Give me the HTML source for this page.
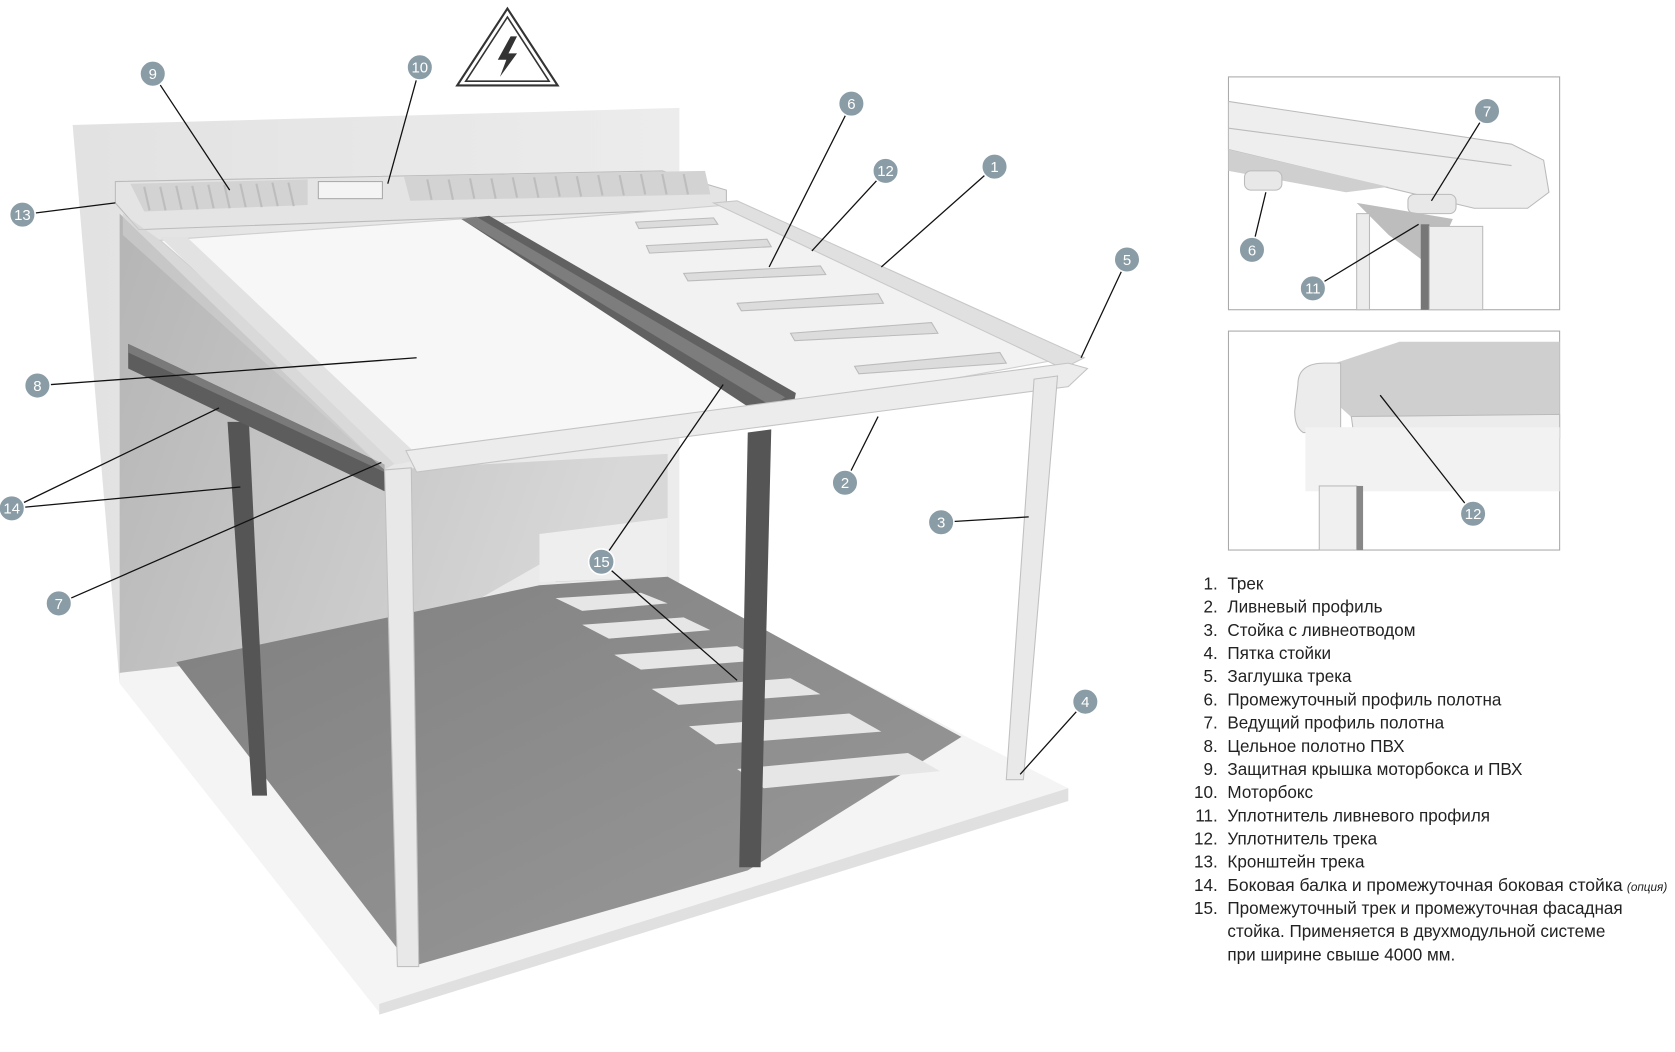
<!DOCTYPE html>
<html><head><meta charset="utf-8"><style>
html,body{margin:0;padding:0;background:#fff;}
svg{display:block;}
text{font-family:"Liberation Sans",sans-serif;}
</style></head><body>
<svg width="1675" height="1052" viewBox="0 0 1568 985" preserveAspectRatio="none" xmlns="http://www.w3.org/2000/svg">
<defs>
<linearGradient id="wall" x1="0" y1="0" x2="1" y2="0"><stop offset="0" stop-color="#e2e2e2"/><stop offset="1" stop-color="#ececec"/></linearGradient>
<linearGradient id="under" x1="0" y1="0" x2="1" y2="0.3"><stop offset="0" stop-color="#b5b5b5"/><stop offset="1" stop-color="#d8d8d8"/></linearGradient>
<linearGradient id="shadow" x1="0" y1="0" x2="1" y2="1"><stop offset="0" stop-color="#808080"/><stop offset="1" stop-color="#9a9a9a"/></linearGradient>
</defs>
<!-- back wall -->
<polygon points="68,117 636,101 636,545 112,640" fill="url(#wall)"/>
<!-- floor -->
<polygon points="112,640 355,948 1000,750 1000,738 905,690 620,540 112,630" fill="#f4f4f4"/>
<polygon points="355,940 1000,738 1000,750 355,950" fill="#e0e0e0"/>
<!-- under-roof area -->
<polygon points="112,200 360,440 625,425 625,540 520,545 520,520 380,600 112,630" fill="url(#under)"/>
<polygon points="505,500 625,485 625,540 505,545" fill="#eeeeee"/>
<!-- floor shadow -->
<polygon points="165,620 385,905 700,815 900,690 625,540 505,548" fill="url(#shadow)"/>
<g fill="#e6e6e6">
<polygon points="520,560 600,555 625,565 545,572"/>
<polygon points="545,585 640,578 665,590 570,598"/>
<polygon points="575,613 690,605 715,618 600,627"/>
<polygon points="610,645 740,635 768,650 635,660"/>
<polygon points="645,680 795,668 825,685 670,697"/>
<polygon points="690,720 850,705 880,722 715,738"/>
</g>
<!-- left dark post -->
<polygon points="213,395 233,395 250,745 236,745" fill="#555"/>
<!-- side beam -->
<polygon points="120,322 360,435 360,460 120,345" fill="#5d5d5d"/>
<polygon points="120,322 360,435 360,442 120,330" fill="#7a7a7a"/>
<!-- motorbox / top -->
<polygon points="108,170 620,160 680,178 680,195 130,215 108,190" fill="#e4e4e4" stroke="#bbb"/>
<polygon points="122,172 288,168 288,192 135,198" fill="#d3d3d3"/>
<polygon points="378,165 660,160 665,182 384,188" fill="#d3d3d3"/>
<g stroke="#bdbdbd" stroke-width="2">
<line x1="135" y1="175" x2="140" y2="197"/><line x1="150" y1="175" x2="155" y2="197"/><line x1="165" y1="174" x2="170" y2="196"/><line x1="180" y1="174" x2="185" y2="196"/><line x1="195" y1="173" x2="200" y2="195"/><line x1="210" y1="173" x2="215" y2="195"/><line x1="225" y1="172" x2="230" y2="194"/><line x1="240" y1="172" x2="245" y2="194"/><line x1="255" y1="171" x2="260" y2="193"/><line x1="270" y1="171" x2="275" y2="193"/>
<line x1="400" y1="168" x2="404" y2="187"/><line x1="420" y1="168" x2="424" y2="187"/><line x1="440" y1="167" x2="444" y2="186"/><line x1="460" y1="167" x2="464" y2="186"/><line x1="480" y1="166" x2="484" y2="185"/><line x1="500" y1="166" x2="504" y2="185"/><line x1="520" y1="165" x2="524" y2="184"/><line x1="540" y1="165" x2="544" y2="184"/><line x1="560" y1="164" x2="564" y2="183"/><line x1="580" y1="164" x2="584" y2="183"/><line x1="600" y1="163" x2="604" y2="182"/><line x1="620" y1="163" x2="624" y2="182"/><line x1="640" y1="163" x2="644" y2="182"/>
</g>
<rect x="298" y="170" width="60" height="16" fill="#f4f4f4" stroke="#aaa"/>
<!-- left side glass -->
<polygon points="115,200 150,225 385,425 360,440 115,220" fill="#d0d0d0" opacity="0.6"/>
<!-- roof left panel -->
<polygon points="150,225 432,205 738,380 385,430" fill="#f7f7f7" stroke="#cfcfcf"/>
<polygon points="150,222 175,222 395,430 370,435" fill="#e2e2e2"/>
<!-- roof right panel -->
<polygon points="460,210 680,192 1000,335 740,382" fill="#f2f2f2" stroke="#cfcfcf"/>
<polygon points="668,190 690,188 1015,335 995,345" fill="#e0e0e0" stroke="#c8c8c8"/>
<g fill="#dcdcdc" stroke="#bbb">
<polygon points="595,208 668,204 672,210 598,214"/>
<polygon points="605,230 718,224 722,231 608,237"/>
<polygon points="640,256 768,249 773,257 644,263"/>
<polygon points="690,284 822,275 827,284 694,291"/>
<polygon points="740,312 872,302 878,312 744,319"/>
<polygon points="800,343 936,330 942,340 804,350"/>
</g>
<!-- middle dark track -->
<polygon points="432,205 458,202 745,368 740,395 722,395" fill="#616161"/>
<polygon points="432,205 446,203 735,372 722,380" fill="#7d7d7d"/>
<!-- front gutter -->
<polygon points="380,422 1000,340 1018,345 1000,362 390,442" fill="#ececec" stroke="#c4c4c4"/>
<!-- posts -->
<polygon points="360,440 385,438 392,905 372,905" fill="#e8e8e8" stroke="#c0c0c0"/>
<polygon points="700,405 722,402 712,812 692,812" fill="#555"/>
<polygon points="968,355 990,352 958,730 942,730" fill="#e9e9e9" stroke="#c0c0c0"/>
<!-- warning triangle -->
<polygon points="475,8 522,80 428,80" fill="#fff" stroke="#333" stroke-width="2"/>
<polygon points="475,16 514,76 436,76" fill="#fff" stroke="#333" stroke-width="1.5"/>
<polygon points="478,34 466,56 474,56 468,72 484,50 476,50 484,34" fill="#333"/>
<!-- callout lines -->
<g stroke="#111" stroke-width="1.2" fill="none">
<line x1="143" y1="69" x2="215" y2="178"/>
<line x1="393" y1="63" x2="363" y2="172"/>
<line x1="797" y1="97" x2="720" y2="250"/>
<line x1="829" y1="160" x2="760" y2="235"/>
<line x1="931" y1="156" x2="825" y2="250"/>
<line x1="21" y1="201" x2="108" y2="190"/>
<line x1="1055" y1="243" x2="1012" y2="335"/>
<line x1="35" y1="361" x2="390" y2="335"/>
<line x1="791" y1="452" x2="822" y2="390"/>
<line x1="881" y1="489" x2="963" y2="484"/>
<line x1="11" y1="476" x2="205" y2="382"/>
<line x1="11" y1="476" x2="225" y2="456"/>
<line x1="55" y1="565" x2="357" y2="433"/>
<line x1="563" y1="526" x2="677" y2="360"/>
<line x1="563" y1="526" x2="690" y2="637"/>
<line x1="1016" y1="657" x2="955" y2="725"/>
</g>
<!-- insets -->
<rect x="1150" y="72" width="310" height="218" fill="#fff" stroke="#aaa"/>
<polygon points="1150,95 1415,135 1445,150 1450,180 1430,195 1380,195 1150,140" fill="#eeeeee" stroke="#bbb"/>
<line x1="1150" y1="120" x2="1415" y2="155" stroke="#bbb"/>
<polygon points="1150,140 1300,175 1260,180 1150,160" fill="#cfcfcf"/>
<rect x="1165" y="160" width="35" height="18" rx="6" fill="#e8e8e8" stroke="#bbb"/>
<rect x="1318" y="182" width="45" height="18" rx="6" fill="#e8e8e8" stroke="#bbb"/>
<polygon points="1270,190 1360,205 1340,250 1300,220" fill="#bdbdbd"/>
<rect x="1270" y="200" width="12" height="90" fill="#ececec" stroke="#bbb"/>
<rect x="1330" y="210" width="8" height="80" fill="#777"/>
<rect x="1338" y="212" width="50" height="78" fill="#eeeeee" stroke="#bbb"/>
<rect x="1150" y="310" width="310" height="205" fill="#fff" stroke="#aaa"/>
<polygon points="1220,350 1310,320 1460,320 1460,395 1270,395" fill="#cfcfcf"/>
<polygon points="1265,390 1460,388 1460,410 1268,412" fill="#ececec" stroke="#bbb"/>
<path d="M1215,360 Q1215,340 1240,340 L1255,340 L1255,405 L1220,405 Q1212,400 1212,385 Z" fill="#ececec" stroke="#bbb"/>
<rect x="1222" y="400" width="238" height="60" fill="#f2f2f2"/>
<rect x="1235" y="455" width="35" height="60" fill="#f0f0f0" stroke="#bbb"/>
<rect x="1270" y="455" width="6" height="60" fill="#888"/>
<g stroke="#111" stroke-width="1.2">
<line x1="1392" y1="104" x2="1340" y2="188"/>
<line x1="1172" y1="234" x2="1185" y2="180"/>
<line x1="1229" y1="270" x2="1328" y2="210"/>
<line x1="1379" y1="481" x2="1292" y2="370"/>
</g>
<!-- callout circles -->
<g fill="#8a9ca5" stroke="#fff" stroke-width="1.5">
<circle cx="143" cy="69" r="12"/><circle cx="393" cy="63" r="12"/><circle cx="797" cy="97" r="12"/><circle cx="829" cy="160" r="12"/><circle cx="931" cy="156" r="12"/><circle cx="21" cy="201" r="12"/><circle cx="1055" cy="243" r="12"/><circle cx="35" cy="361" r="12"/><circle cx="791" cy="452" r="12"/><circle cx="881" cy="489" r="12"/><circle cx="11" cy="476" r="12"/><circle cx="55" cy="565" r="12"/><circle cx="563" cy="526" r="12"/><circle cx="1016" cy="657" r="12"/>
<circle cx="1392" cy="104" r="12"/><circle cx="1172" cy="234" r="12"/><circle cx="1229" cy="270" r="12"/><circle cx="1379" cy="481" r="12"/>
</g>
<g fill="#fff" font-size="14" text-anchor="middle">
<text x="143" y="74">9</text><text x="393" y="68">10</text><text x="797" y="102">6</text><text x="829" y="165">12</text><text x="931" y="161">1</text><text x="21" y="206">13</text><text x="1055" y="248">5</text><text x="35" y="366">8</text><text x="791" y="457">2</text><text x="881" y="494">3</text><text x="11" y="481">14</text><text x="55" y="570">7</text><text x="563" y="531">15</text><text x="1016" y="662">4</text>
<text x="1392" y="109">7</text><text x="1172" y="239">6</text><text x="1229" y="275">11</text><text x="1379" y="486">12</text>
</g>
<!-- legend -->
<g font-size="16" fill="#222">
<g text-anchor="end">
<text x="1140" y="552">1.</text><text x="1140" y="573.7">2.</text><text x="1140" y="595.4">3.</text><text x="1140" y="617.1">4.</text><text x="1140" y="638.8">5.</text><text x="1140" y="660.5">6.</text><text x="1140" y="682.2">7.</text><text x="1140" y="703.9">8.</text><text x="1140" y="725.6">9.</text><text x="1140" y="747.3">10.</text><text x="1140" y="769">11.</text><text x="1140" y="790.7">12.</text><text x="1140" y="812.4">13.</text><text x="1140" y="834.1">14.</text><text x="1140" y="855.8">15.</text>
</g>
<text x="1149" y="552">Трек</text>
<text x="1149" y="573.7">Ливневый профиль</text>
<text x="1149" y="595.4">Стойка с ливнеотводом</text>
<text x="1149" y="617.1">Пятка стойки</text>
<text x="1149" y="638.8">Заглушка трека</text>
<text x="1149" y="660.5">Промежуточный профиль полотна</text>
<text x="1149" y="682.2">Ведущий профиль полотна</text>
<text x="1149" y="703.9">Цельное полотно ПВХ</text>
<text x="1149" y="725.6">Защитная крышка моторбокса и ПВХ</text>
<text x="1149" y="747.3">Моторбокс</text>
<text x="1149" y="769">Уплотнитель ливневого профиля</text>
<text x="1149" y="790.7">Уплотнитель трека</text>
<text x="1149" y="812.4">Кронштейн трека</text>
<text x="1149" y="834.1" textLength="370" lengthAdjust="spacingAndGlyphs">Боковая балка и промежуточная боковая стойка</text>
<text x="1523" y="834.1" font-size="11" font-style="italic">(опция)</text>
<text x="1149" y="855.8">Промежуточный трек и промежуточная фасадная</text>
<text x="1149" y="877.5">стойка. Применяется в двухмодульной системе</text>
<text x="1149" y="899.2">при ширине свыше 4000 мм.</text>
</g>
</svg>
</body></html>
